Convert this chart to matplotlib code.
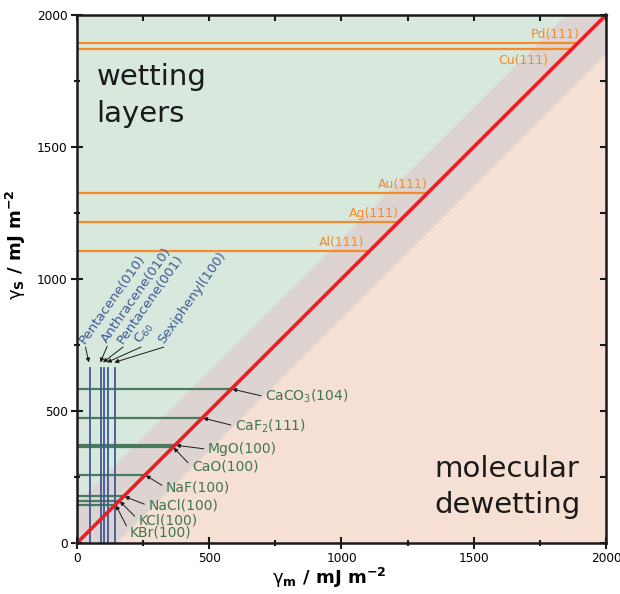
import matplotlib
matplotlib.use("Agg")
import matplotlib.pyplot as plt
import numpy as np

# surface energies (mJ m^-2)
metal_names = ["Pd(111)", "Cu(111)", "Au(111)", "Ag(111)", "Al(111)"]
metal_gamma = [1895, 1870, 1325, 1215, 1105]

ionic_names = ["CaCO$_3$(104)", "CaF$_2$(111)", "MgO(100)", "CaO(100)",
               "NaF(100)", "NaCl(100)", "KCl(100)", "KBr(100)"]
ionic_gamma = [585, 475, 372, 363, 258, 178, 160, 145]

organic_names = ["Pentacene(010)", "Anthracene(010)", "Pentacene(001)",
                 "C$_{60}$", "Sexiphenyl(100)"]
organic_gamma = [48, 91, 101, 116, 144]

C_WET = "#d8e8dc"
C_DEW = "#f6e0d4"
C_BAND = "#ddd4d2"
C_RED = "#ee1c24"
C_ORANGE = "#f48a2a"
C_GREEN = "#4a7a5c"
C_GREEN_TXT = "#3f7552"
C_BLUE = "#3d5a99"
C_INK = "#1a1a1a"

fig = plt.figure(figsize=(6.2, 5.94), dpi=100)
ax = fig.add_axes([0.1242, 0.0859, 0.8532, 0.8889])
ax.set_xlim(0, 2000); ax.set_ylim(0, 2000)

# background regions
xx = np.array([0, 2000])
ax.fill_between(xx, xx, 2000, color=C_WET, lw=0, zorder=0)
ax.fill_between(xx, 0, xx, color=C_DEW, lw=0, zorder=0)
ax.fill_between(xx, xx - 150, xx + 150, color=C_BAND, lw=0, zorder=0.5)

# metals: horizontal lines up to the diagonal
metal_label_va = ["bottom", "top", "bottom", "bottom", "bottom"]
metal_label_x = [1900, 1780, 1325, 1215, 1085]
for name, g, va, lx in zip(metal_names, metal_gamma, metal_label_va, metal_label_x):
    ax.plot([0, g], [g, g], color=C_ORANGE, lw=1.6, zorder=2)
    ly = g + 8 if va == "bottom" else g - 18
    ax.text(lx, ly, name, color=C_ORANGE, fontsize=9, ha="right", va=va, zorder=3)

# ionic crystals
ionic_text_xy = [(711, 554), (597, 443), (494, 355), (434, 289),
                 (336, 209), (270, 141), (232, 87), (200, 39)]
for name, g, (tx, ty) in zip(ionic_names, ionic_gamma, ionic_text_xy):
    ax.plot([0, g], [g, g], color=C_GREEN, lw=1.6, zorder=2)
    ax.annotate(name, xy=(g + 2, g - 2), xytext=(tx, ty), color=C_GREEN_TXT,
                fontsize=10, ha="left", va="center", zorder=4,
                arrowprops=dict(arrowstyle="-|>", color=C_INK, lw=0.7,
                                mutation_scale=6, shrinkA=1, shrinkB=0,
                                relpos=(0, 0.5)))

# organic crystals: vertical lines
org_top = 662
org_text_xy = [(30, 752), (112, 755), (172, 752), (240, 752), (326, 752)]
for name, g, (tx, ty) in zip(organic_names, organic_gamma, org_text_xy):
    ax.plot([g, g], [0, org_top], color=C_BLUE, lw=1.3, zorder=2.5)
    ax.text(tx, ty, name, color=C_BLUE, fontsize=9.5, rotation=55,
            rotation_mode="anchor", ha="left", va="baseline", zorder=4)
    ax.annotate("", xy=(g - 3, org_top + 22), xytext=(tx + 2, ty - 10),
                arrowprops=dict(arrowstyle="-|>", color=C_INK, lw=0.7,
                                mutation_scale=6, shrinkA=0, shrinkB=0))

# diagonal gamma_s = gamma_m
ax.plot(xx, xx, color=C_RED, lw=2.6, zorder=5, clip_on=False)

ax.text(74, 1735, "wetting", fontsize=21, color=C_INK, ha="left", va="baseline")
ax.text(74, 1595, "layers", fontsize=21, color=C_INK, ha="left", va="baseline")
ax.text(1353, 251, "molecular", fontsize=21, color=C_INK, ha="left", va="baseline")
ax.text(1353, 112, "dewetting", fontsize=21, color=C_INK, ha="left", va="baseline")

# axes styling
major = np.arange(0, 2001, 500)
minor = np.arange(250, 2000, 500)
for sp in ax.spines.values():
    sp.set_linewidth(1.8); sp.set_color(C_INK); sp.set_zorder(6)
ax.set_xticks(major); ax.set_yticks(major)
ax.set_xticks(minor, minor=True); ax.set_yticks(minor, minor=True)
ax.tick_params(which="major", direction="inout", length=8.5, width=1.5,
               labelsize=8.7, pad=2.5, color=C_INK)
ax.tick_params(which="minor", direction="inout", length=4.5, width=1.5,
               color=C_INK)

# inward ticks on the top and right edges
tx_ = ax.twiny(); tx_.set_xlim(0, 2000)
ty_ = ax.twinx(); ty_.set_ylim(0, 2000)
for tw, axis in ((tx_, tx_.xaxis), (ty_, ty_.yaxis)):
    axis.set_ticks(major); axis.set_ticks(minor, minor=True)
    tw.tick_params(which="both", direction="in", length=4, width=1.5,
                   color=C_INK, labeltop=False, labelright=False)
    for sp in tw.spines.values():
        sp.set_visible(False)

ax.set_xlabel(r"$\mathrm{\gamma}_\mathbf{m}$ / mJ m$^\mathbf{-2}$",
              fontsize=13, fontweight="bold", va="center")
ax.xaxis.set_label_coords(0.476, -0.066)
ax.set_ylabel(r"$\mathrm{\gamma}_\mathbf{S}$ / mJ m$^\mathbf{-2}$",
              fontsize=13, fontweight="bold", va="center")
ax.yaxis.set_label_coords(-0.115, 0.564)

fig.savefig("out.png", dpi=100, facecolor="white")
